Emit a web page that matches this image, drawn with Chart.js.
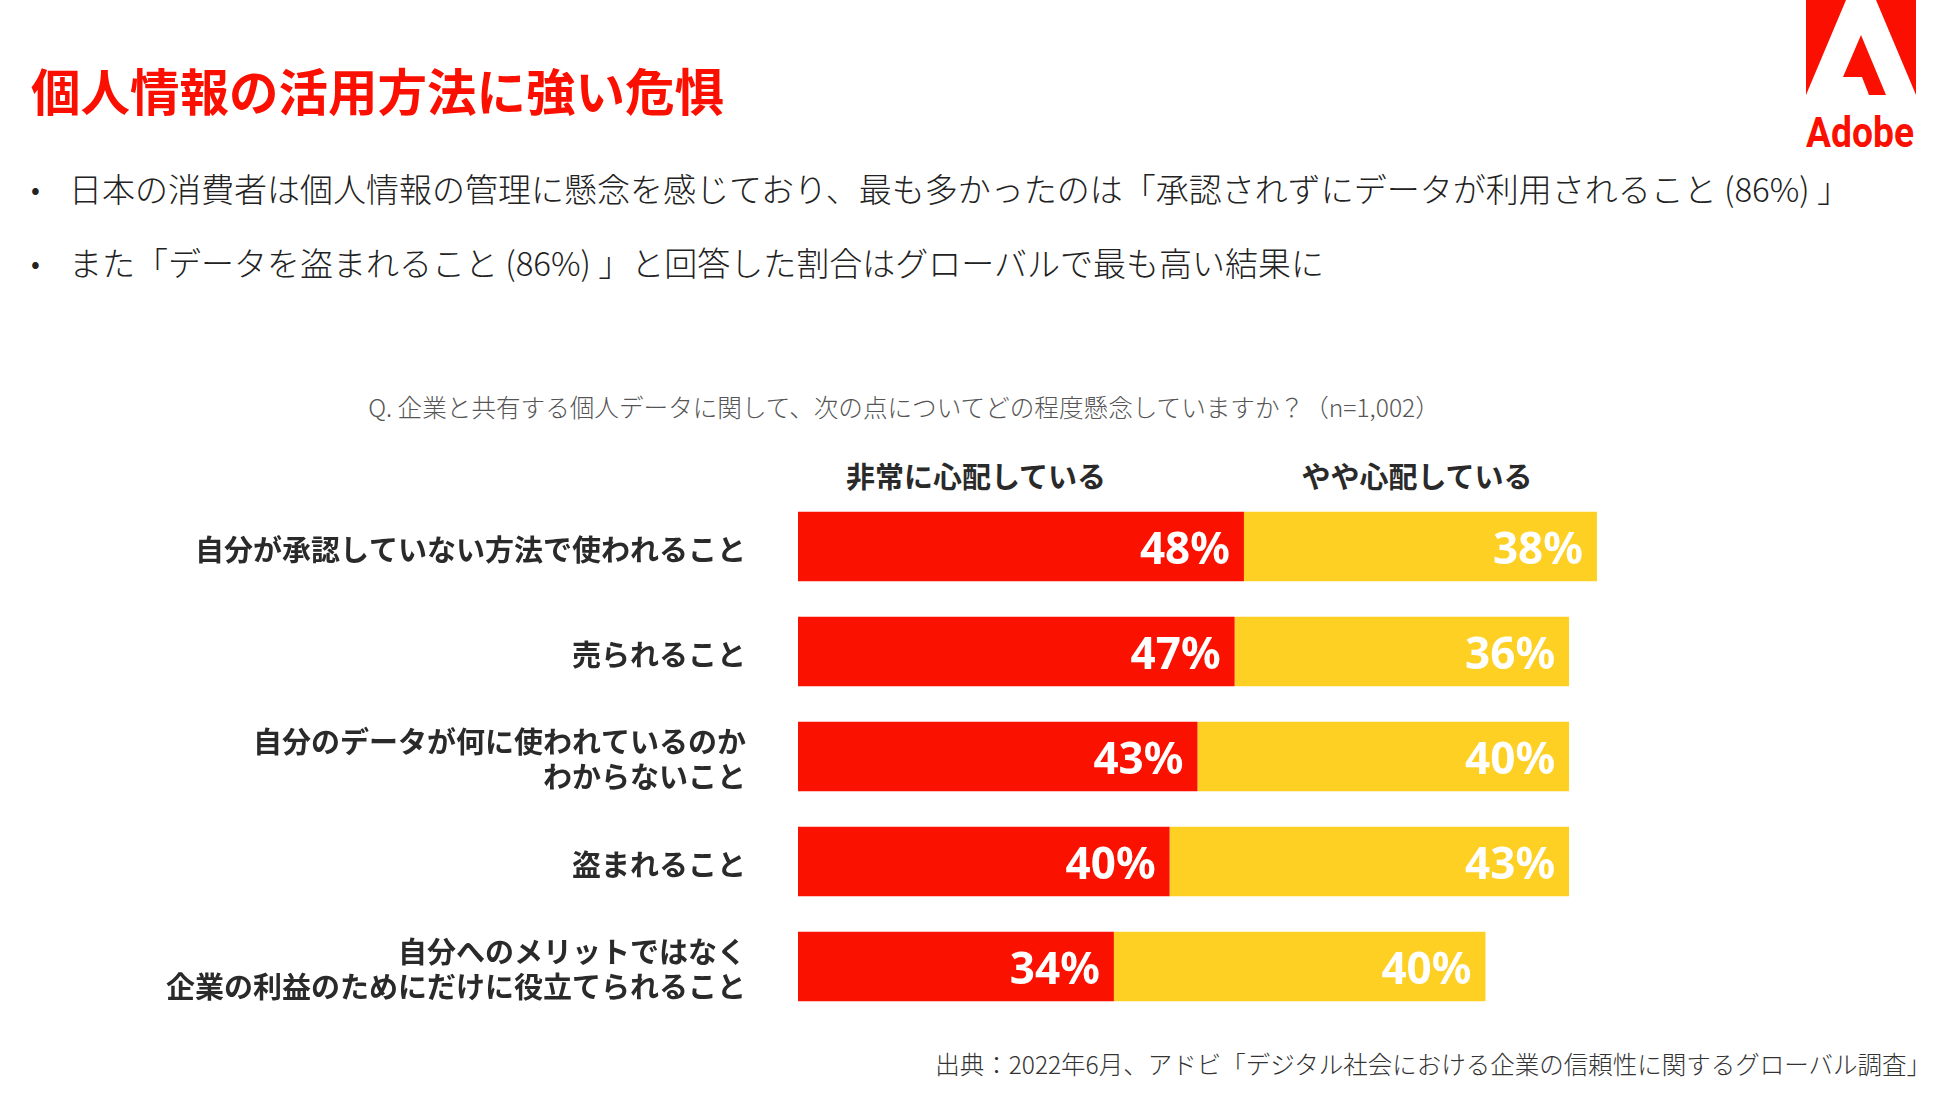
<!DOCTYPE html>
<html lang="ja">
<head>
<meta charset="utf-8">
<title>個人情報の活用方法に強い危惧</title>
<script src="https://cdn.jsdelivr.net/npm/chart.js@4.4.1/dist/chart.umd.min.js"></script>
<style>
  html, body { margin: 0; padding: 0; background: #fff; }
  body { width: 1950px; height: 1107px; position: relative; overflow: hidden;
         font-family: 'Noto Sans CJK JP', 'Noto Sans', sans-serif; color: #222; }
  .abs { position: absolute; white-space: nowrap; }
  #title { left: 31px; top: 60px; font-size: 49.5px; font-weight: 700; color: #fa0f00; line-height: 60px; }
  .bullet { left: 69px; font-size: 33px; font-weight: 300; line-height: 40px; color: #222; }
  .dot { left: 31px; font-size: 26px; line-height: 40px; color: #222; }
  #question { left: 0; width: 1808px; text-align: center; top: 390px; font-size: 24.6px; font-weight: 300; color: #555; line-height: 32px; }
  .head { font-size: 29px; font-weight: 700; color: #2a2a2a; line-height: 36px; transform: translateX(-50%); }
  #source { right: 19px; top: 1048px; font-size: 24.5px; font-weight: 300; color: #333; line-height: 32px; }
  #logo { left: 1806px; top: 0; }
  #barChart { position: absolute; left: 0; top: 494px; }
</style>
</head>
<body>
<div id="title" class="abs">個人情報の活用方法に強い危惧</div>
<div class="abs dot" style="top:168px">•</div>
<div class="abs bullet" style="top:168px">日本の消費者は個人情報の管理に懸念を感じており、最も多かったのは「承認されずにデータが利用されること (86%) 」</div>
<div class="abs dot" style="top:242px">•</div>
<div class="abs bullet" style="top:242px">また「データを盗まれること (86%) 」と回答した割合はグローバルで最も高い結果に</div>

<svg id="logo" class="abs" width="110" height="152" viewBox="0 0 110 152">
  <polygon points="0,0 40,0 0,95" fill="#fa0f00"/>
  <polygon points="70,0 110,0 110,95" fill="#fa0f00"/>
  <polygon points="55,35 80,95 63,95 56,77 37,77" fill="#fa0f00"/>
  <text x="0" y="147" font-family="'Liberation Sans Narrow', 'Roboto', sans-serif" font-weight="700"
        font-size="42" fill="#fa0f00" textLength="108" lengthAdjust="spacingAndGlyphs">Adobe</text>
</svg>

<div id="question" class="abs">Q. 企業と共有する個人データに関して、次の点についてどの程度懸念していますか？（n=1,002）</div>
<div id="head0" class="abs head" style="left:976px; top:457px"></div>
<div id="head1" class="abs head" style="left:1417px; top:457px"></div>

<canvas id="barChart" width="1727" height="525"></canvas>

<div id="source" class="abs">出典：2022年6月、アドビ「デジタル社会における企業の信頼性に関するグローバル調査」</div>

<script>
// Datos de la gráfica
const categorias = [
  '自分が承認していない方法で使われること',
  '売られること',
  ['自分のデータが何に使われているのか', 'わからないこと'],
  '盗まれること',
  ['自分へのメリットではなく', '企業の利益のためにだけに役立てられること']
];
const serieNombres = ['非常に心配している', 'やや心配している'];
const muyPreocupado = [48, 47, 43, 40, 34];
const algoPreocupado = [38, 36, 40, 43, 40];
const colores = ['#fa1100', '#fdd023'];

document.getElementById('head0').textContent = serieNombres[0];
document.getElementById('head1').textContent = serieNombres[1];

// Etiquetas blancas dentro de cada barra
const etiquetasBarras = {
  id: 'etiquetasBarras',
  afterDatasetsDraw(chart) {
    const ctx = chart.ctx;
    ctx.save();
    ctx.fillStyle = '#ffffff';
    ctx.font = "700 44px 'Noto Sans', 'Noto Sans CJK JP', sans-serif";
    ctx.textAlign = 'right';
    ctx.textBaseline = 'middle';
    chart.data.datasets.forEach((ds, i) => {
      chart.getDatasetMeta(i).data.forEach((bar, j) => {
        ctx.fillText(ds.data[j] + '%', bar.x - 14, bar.y + 5);
      });
    });
    ctx.restore();
  }
};

const ctx = document.getElementById('barChart').getContext('2d');
new Chart(ctx, {
  type: 'bar',
  data: {
    labels: categorias,
    datasets: [
      { label: serieNombres[0], data: muyPreocupado, backgroundColor: colores[0] },
      { label: serieNombres[1], data: algoPreocupado, backgroundColor: colores[1] }
    ]
  },
  options: {
    indexAxis: 'y',
    responsive: false,
    devicePixelRatio: 1,
    animation: false,
    layout: { padding: 0 },
    datasets: { bar: { categoryPercentage: 1, barPercentage: 0.66, borderWidth: 0 } },
    plugins: {
      legend: { display: false },
      tooltip: { enabled: false }
    },
    scales: {
      x: { stacked: true, min: 0, max: 100, display: false },
      y: {
        stacked: true,
        grid: { display: false, drawTicks: false },
        border: { display: false },
        afterFit(scale) {
          // ancho fijo del eje y sin relleno extra arriba/abajo
          scale.width = 798;
          scale.paddingTop = 0;
          scale.paddingBottom = 0;
        },
        ticks: {
          padding: 52,
          labelOffset: 3,
          color: '#2a2a2a',
          font: { family: "'Noto Sans CJK JP', sans-serif", size: 29, weight: '700', lineHeight: 1.2 }
        }
      }
    }
  },
  plugins: [etiquetasBarras]
});
</script>
</body>
</html>
